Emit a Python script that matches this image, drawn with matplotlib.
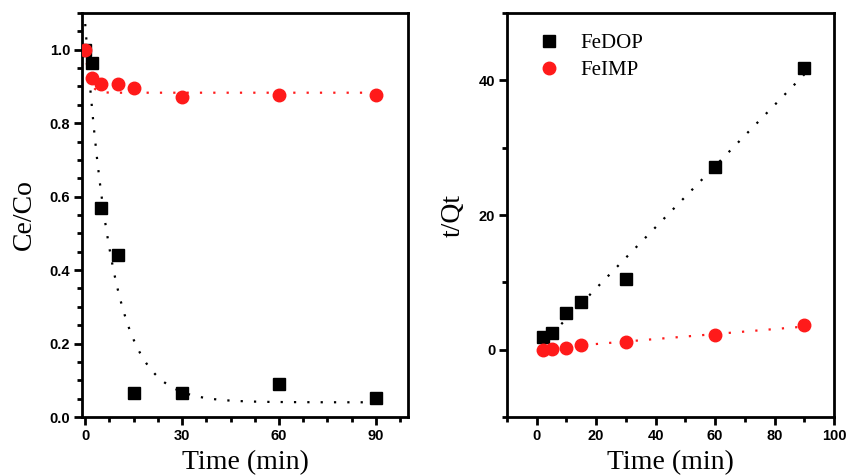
import numpy as np
import matplotlib
matplotlib.use("Agg")
import matplotlib.pyplot as plt
from matplotlib.ticker import MultipleLocator

# Left panel: Ce/Co vs time
time_left = [0, 2, 5, 10, 15, 30, 60, 90]
fedop_ceco = [1.0, 0.965, 0.568, 0.441, 0.066, 0.064, 0.090, 0.051]
feimp_ceco = [1.0, 0.922, 0.906, 0.907, 0.897, 0.871, 0.877, 0.877]

# Right panel: t/Qt vs time
time_right = [2, 5, 10, 15, 30, 60, 90]
fedop_tqt = [1.83, 2.48, 5.45, 7.13, 10.5, 27.2, 41.9]
feimp_tqt = [-0.05, 0.1, 0.25, 0.7, 1.08, 2.12, 3.67]

# fitted model parameters
fedop_decay = (0.04, 1.03, 0.12)     # y0, A, k
feimp_decay = (0.883, 0.117, 0.8)
fedop_lin = (0.4535, 0.05)           # slope, intercept
feimp_lin = (0.037, 0.1)

RED = '#ff1a1a'
serif = ['Liberation Serif', 'DejaVu Serif']
sans = ['Liberation Sans', 'DejaVu Sans']
dots = (0, (1, 5))

fig = plt.figure(figsize=(8.47, 4.75), dpi=100)
ax1 = fig.add_axes([0.0968, 0.1221, 0.385, 0.8505])
ax2 = fig.add_axes([0.5986, 0.1221, 0.386, 0.8505])


def style_axis(ax):
    for sp in ax.spines.values():
        sp.set_linewidth(2)
    ax.tick_params(which='both', direction='out', width=2, top=False, right=False)
    ax.tick_params(which='major', length=5.5, pad=3)
    ax.tick_params(which='minor', length=3.5)
    for lab in ax.get_xticklabels() + ax.get_yticklabels():
        lab.set_fontfamily(sans)
        lab.set_fontweight('bold')
        lab.set_fontsize(10.5)


# --- left panel
tt = np.linspace(0, 90, 300)
y0, A, k = fedop_decay
ax1.plot(tt, y0 + A * np.exp(-k * tt), color='black', lw=1.6, ls=dots, zorder=1)
y0, A, k = feimp_decay
ax1.plot(tt, y0 + A * np.exp(-k * tt), color=RED, lw=1.6, ls=dots, zorder=1)
ax1.plot(time_left, fedop_ceco, 's', color='black', ms=8.5, ls='none', zorder=2)
ax1.plot(time_left, feimp_ceco, 'o', color=RED, ms=9, ls='none', zorder=3)
ax1.set_xlim(-1, 100)
ax1.set_ylim(0, 1.1)
ax1.xaxis.set_major_locator(MultipleLocator(30))
ax1.xaxis.set_minor_locator(MultipleLocator(7.5))
ax1.yaxis.set_major_locator(MultipleLocator(0.2))
ax1.yaxis.set_minor_locator(MultipleLocator(0.05))
ax1.set_xticks([0, 30, 60, 90])
ax1.set_yticklabels([f"{v:.1f}" for v in ax1.get_yticks()])
ax1.set_xlabel('Time (min)', fontfamily=serif, fontsize=20, labelpad=5)
ax1.set_ylabel('Ce/Co', fontfamily=serif, fontsize=20, labelpad=9)
style_axis(ax1)

# --- right panel
tl = np.array([2, 90])
m, b = fedop_lin
ax2.plot(tl, m * tl + b, color='black', lw=1.6, ls=dots, zorder=1)
m, b = feimp_lin
ax2.plot(tl, m * tl + b, color=RED, lw=1.6, ls=dots, zorder=1)
ax2.plot(time_right, fedop_tqt, 's', color='black', ms=8.5, ls='none', zorder=2, label='FeDOP')
ax2.plot(time_right, feimp_tqt, 'o', color=RED, ms=9, ls='none', zorder=3, label='FeIMP')
ax2.set_xlim(-10, 100)
ax2.set_ylim(-10, 50)
ax2.xaxis.set_major_locator(MultipleLocator(20))
ax2.xaxis.set_minor_locator(MultipleLocator(10))
ax2.set_xticks([0, 20, 40, 60, 80, 100])
ax2.yaxis.set_major_locator(MultipleLocator(20))
ax2.yaxis.set_minor_locator(MultipleLocator(10))
ax2.set_yticks([0, 20, 40])
ax2.set_xlabel('Time (min)', fontfamily=serif, fontsize=20, labelpad=5)
ax2.set_ylabel('t/Qt', fontfamily=serif, fontsize=20, labelpad=9)
ax2.legend(loc='upper left', frameon=False, prop={'family': serif, 'size': 15},
           handletextpad=0.5, borderaxespad=0.6, labelspacing=0.35)
style_axis(ax2)

fig.savefig('out.png', dpi=100)
